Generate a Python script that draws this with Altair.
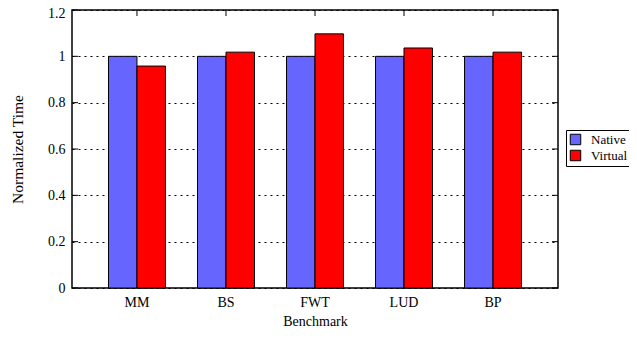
import altair as alt
import pandas as pd

benchmarks = ["MM", "BS", "FWT", "LUD", "BP"]
native = [1.0, 1.0, 1.0, 1.0, 1.0]
virtual = [0.958, 1.018, 1.097, 1.036, 1.018]
series = ["Native", "Virtual"]
colors = ["#6666ff", "#ff0000"]
y_ticks = [0, 0.2, 0.4, 0.6, 0.8, 1.0, 1.2]

rows = []
for b, n, v in zip(benchmarks, native, virtual):
    rows.append({"Benchmark": b, "Series": "Native", "Time": n})
    rows.append({"Benchmark": b, "Series": "Virtual", "Time": v})
df = pd.DataFrame(rows)
ticks_df = pd.DataFrame({"v": y_ticks})
cats_df = pd.DataFrame({"Benchmark": benchmarks})

FONT = "Liberation Serif"
W, H = 486, 278

xscale = alt.Scale(domain=benchmarks, paddingInner=0.36, paddingOuter=0.41)
yscale = alt.Scale(domain=[0, 1.2], nice=False)

bars = alt.Chart(df).mark_bar(stroke="black", strokeWidth=1).encode(
    x=alt.X("Benchmark:N", scale=xscale, sort=benchmarks,
            axis=alt.Axis(title="Benchmark", labelAngle=0, ticks=False, domain=False,
                          labelPadding=7, titlePadding=5)),
    xOffset=alt.XOffset("Series:N", scale=alt.Scale(paddingInner=0, paddingOuter=0)),
    y=alt.Y("Time:Q", scale=yscale,
            axis=alt.Axis(title="Normalized Time", values=y_ticks, ticks=False, domain=False,
                          grid=True, gridDash=[2, 4], gridColor="black", gridOpacity=1,
                          labelPadding=7, titlePadding=22, titleFontSize=15.5,
                          labelOffset={"condition": {"test": "datum.value >= 1.15", "value": 3}, "value": 0},
                          labelExpr="datum.value == 0 ? '0' : datum.value == 1 ? '1' : format(datum.value, '.1f')")),
    color=alt.Color("Series:N", scale=alt.Scale(domain=series, range=colors),
                    legend=alt.Legend(title=None, orient="none", legendX=494, legendY=120,
                                      strokeColor="black", fillColor="white", padding=3,
                                      symbolType="square", symbolSize=110,
                                      symbolStrokeColor="black", symbolStrokeWidth=1,
                                      labelFont=FONT, labelFontSize=13, labelColor="black",
                                      rowPadding=1, labelOffset=9)),
)

left_ticks = alt.Chart(ticks_df).mark_rule(color="black").encode(
    y=alt.Y("v:Q", scale=yscale), x=alt.value(0), x2=alt.value(6))
right_ticks = alt.Chart(ticks_df).mark_rule(color="black").encode(
    y=alt.Y("v:Q", scale=yscale), x=alt.value(W - 6), x2=alt.value(W))
top_ticks = alt.Chart(cats_df).mark_rule(color="black").encode(
    x=alt.X("Benchmark:N", scale=xscale, sort=benchmarks, bandPosition=0.5),
    y=alt.value(0), y2=alt.value(6))

chart = alt.layer(bars, left_ticks, right_ticks, top_ticks).properties(
    width=W, height=H,
    autosize=alt.AutoSizeParams(type="none"),
    padding={"left": 64, "top": 2, "right": 71, "bottom": 42},
).configure_view(stroke="black", strokeWidth=1.5).configure_axis(
    labelFont=FONT, labelFontSize=14, labelColor="black",
    titleFont=FONT, titleFontSize=14, titleColor="black", titleFontWeight="normal",
)

chart.save("out.html", embed_options={"renderer": "svg", "actions": False})
